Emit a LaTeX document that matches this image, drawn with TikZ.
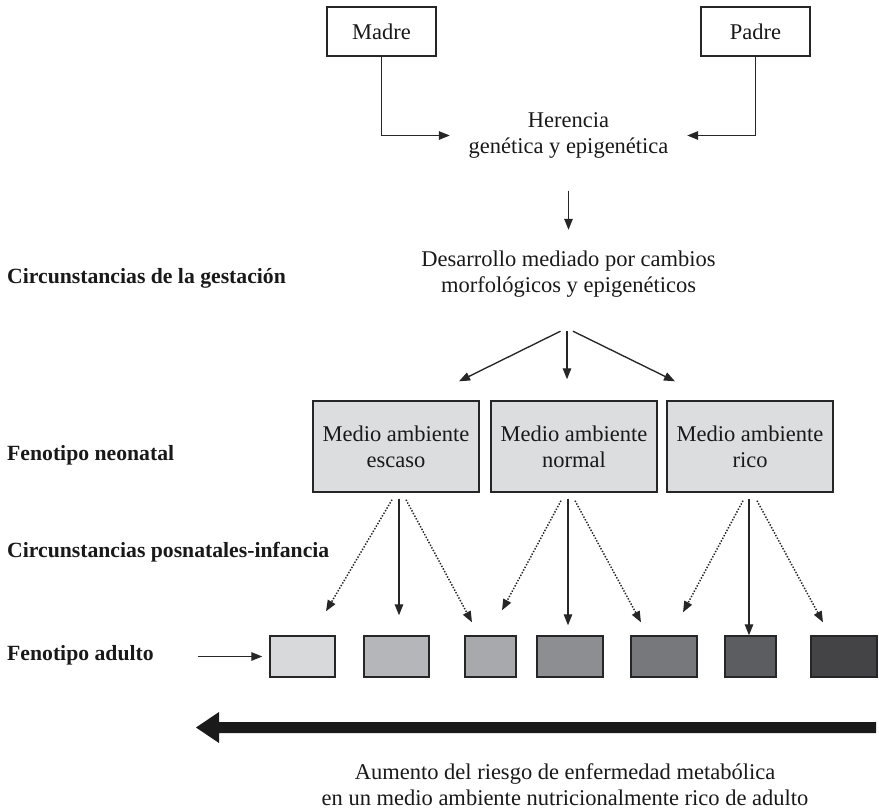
\documentclass[tikz,border=0pt]{standalone}
\usepackage{fontspec}
\setmainfont{Liberation Serif}
\usetikzlibrary{arrows.meta,calc}
\definecolor{envfill}{HTML}{DCDDDE}
\definecolor{edge}{HTML}{262626}
\definecolor{ph1}{HTML}{D8D9DB}
\definecolor{ph2}{HTML}{B5B6B9}
\definecolor{ph3}{HTML}{A8A9AC}
\definecolor{ph4}{HTML}{8D8E91}
\definecolor{ph5}{HTML}{77787B}
\definecolor{ph6}{HTML}{5C5D60}
\definecolor{ph7}{HTML}{444446}
\definecolor{bigarrow}{HTML}{1A1A1A}
\begin{document}
\begin{tikzpicture}[x=1pt,y=-1pt,
  txt/.style={font=\fontsize{22.5}{25.5}\selectfont, align=center, inner sep=0pt, text=black!90},
  parent/.style={draw=edge, line width=1.3pt, minimum width=109pt, minimum height=49pt,
    inner sep=0pt, font=\fontsize{22.5}{25.5}\selectfont, text=black!90},
  envbox/.style={draw=edge, line width=1.4pt, fill=envfill, minimum width=166pt,
    minimum height=91pt, inner sep=0pt, align=center,
    font=\fontsize{22.5}{26}\selectfont, text=black!90},
  adult/.style={draw=edge, line width=1.4pt, minimum height=41pt, inner sep=0pt},
  lbl/.style={anchor=west, inner sep=0pt, font=\fontsize{21.7}{24}\selectfont\bfseries, text=black!90},
  conn/.style={draw=edge, line width=1.35pt, -{Triangle[length=11pt,width=8.5pt]}},
  dotconn/.style={conn, line width=1.5pt, dash pattern=on 1.4pt off 1.6pt},
]
\useasboundingbox (0,0) rectangle (879,809);

% parents and inheritance
\node[parent] (madre) at (381.5,31.5) {Madre};
\node[parent] (padre) at (755.5,31.5) {Padre};
\node[txt, minimum width=237pt, minimum height=110pt] (her) at (568.5,135.5)
  {Herencia\\genética y epigenética};
\draw[conn] (madre.south) |- (her.west);
\draw[conn] (padre.south) |- (her.east);

% development
\node[txt, minimum height=88pt] (des) at (568.5,274)
  {Desarrollo mediado por cambios\\morfológicos y epigenéticos};
\draw[conn] (her.south) -- (des.north);

% neonatal environments
\node[envbox] (env1) at (396,446.5) {Medio ambiente\\escaso};
\node[envbox] (env2) at (574,446.5) {Medio ambiente\\normal};
\node[envbox] (env3) at (750,446.5) {Medio ambiente\\rico};

\draw[conn] ($(des.south)+(-8,13)$) -- ($(env1.north)+(63,-19)$);
\draw[conn] ($(des.south)+(-1.5,13)$) -- ($(env2.north)+(-7,-21)$);
\draw[conn] ($(des.south)+(4.5,13)$) -- ($(env3.north)+(-75,-19)$);

% adult phenotypes
\node[adult, fill=ph1, minimum width=65pt] (a1) at (302.5,656.5) {};
\node[adult, fill=ph2, minimum width=65pt] (a2) at (396.5,656.5) {};
\node[adult, fill=ph3, minimum width=51pt] (a3) at (490.5,656.5) {};
\node[adult, fill=ph4, minimum width=66pt] (a4) at (570,656.5) {};
\node[adult, fill=ph5, minimum width=66pt] (a5) at (664,656.5) {};
\node[adult, fill=ph6, minimum width=51pt] (a6) at (750.5,656.5) {};
\node[adult, fill=ph7, minimum width=66pt] (a7) at (844,656.5) {};

% postnatal pathways
\draw[dotconn] ($(env1.south)+(-4,7)$) -- ($(a1.north)+(23.5,-24)$);
\draw[conn]    ($(env1.south)+(3,6)$)  -- ($(a2.north)+(2.5,-20)$);
\draw[dotconn] ($(env1.south)+(10,7)$) -- ($(a3.north)+(-18.5,-13)$);

\draw[dotconn] ($(env2.south)+(-13,8)$) -- ($(a3.north)+(11.5,-25)$);
\draw[conn]    ($(env2.south)+(-6,6)$)  -- ($(a4.north)+(-2,-10)$);
\draw[dotconn] ($(env2.south)+(1,8)$)   -- ($(a5.north)+(-23,-13)$);

\draw[dotconn] ($(env3.south)+(-7,8)$) -- ($(a5.north)+(19,-23)$);
\draw[conn]    ($(env3.south)+(-1,6)$) -- ($(a6.north)+(-1.5,0)$);
\draw[dotconn] ($(env3.south)+(7,8)$)  -- ($(a7.north)+(-21,-13)$);

% stage labels
\node[lbl] (l1) at (7,278) {Circunstancias de la gestación};
\node[lbl] (l2) at (7,455) {Fenotipo neonatal};
\node[lbl] (l3) at (7,552) {Circunstancias posnatales-infancia};
\node[lbl] (l4) at (7,655) {Fenotipo adulto};
\coordinate (feed) at (198,656.5);
\draw[conn, shorten >=7pt] (feed) -- (a1.west);

% risk gradient
\fill[bigarrow] (876,722) -- (219,722) -- (219,712) -- (196,727.5)
  -- (219,743) -- (219,733) -- (876,733) -- cycle;
\node[txt] (risk) at (565,784.5)
  {Aumento del riesgo de enfermedad metabólica\\en un medio ambiente nutricionalmente rico de adulto};
\end{tikzpicture}
\end{document}
